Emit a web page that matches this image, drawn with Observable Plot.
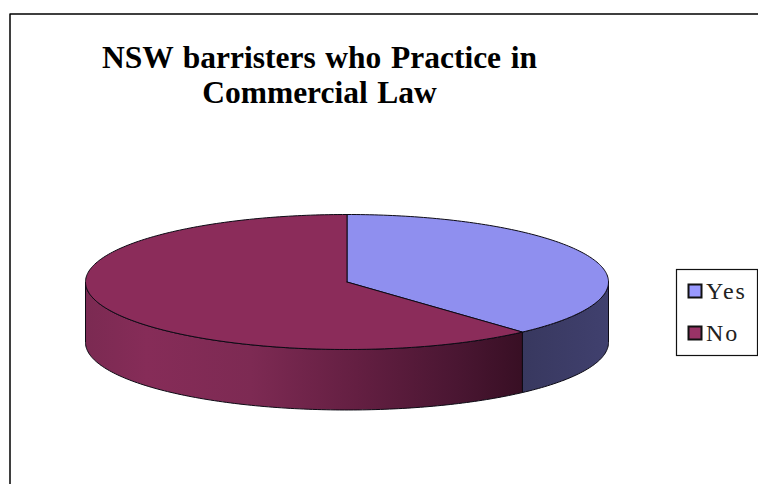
<!DOCTYPE html>
<html>
<head>
<meta charset="utf-8">
<script src="https://cdn.jsdelivr.net/npm/d3@7"></script>
<script src="https://cdn.jsdelivr.net/npm/@observablehq/plot@0.6"></script>
<style>html,body{margin:0;padding:0;background:#fff;overflow:hidden}svg{display:block}
.chart-title text{word-spacing:1.7px}
.legend-label text{letter-spacing:2px}
</style>
</head>
<body>
<div id="chart"></div>
<script>
const categories = ["Yes", "No"];
const shares = [38.3, 61.7];
const topColors = ["#8f8fef", "#8b2c5a"];
const legendColors = ["#9999ff", "#993366"];
const titleLines = ["NSW barristers who Practice in", "Commercial Law"];

const W = 758, H = 484;
// pie geometry: x/y domains are unit-disc coordinates of the tilted pie
const depth = 0.896;
const xRange = [85, 608], yRange = [214, 349];
const toX = d3.scaleLinear(xRange, [-1, 1]);
const toY = d3.scaleLinear(yRange, [1, -1]);

const total = d3.sum(shares);
const split = shares[0] / total * 360;
const rad = a => a * Math.PI / 180;
const rim = (from, to, dz = 0) => {
  const n = Math.max(2, Math.ceil(Math.abs(to - from)));
  return d3.range(n + 1).map(i => {
    const a = rad(from + (to - from) * i / n);
    return {u: Math.sin(a), v: Math.cos(a) - dz};
  });
};
const wedge = (from, to) => [{u: 0, v: 0}, ...rim(from, to), {u: 0, v: 0}];
const wall = (from, to) => {
  const a = rim(from, to), b = rim(to, from, depth);
  return [...a, ...b, a[0]];
};

const lineOpts = (fill) => ({x: "u", y: "v", fill, stroke: "#0c0a14", strokeWidth: 1, curve: "linear", strokeLinejoin: "round"});
const gradient = () => {
  const ns = "http://www.w3.org/2000/svg";
  const defs = document.createElementNS(ns, "defs");
  defs.innerHTML = `
  <linearGradient id="sideNo" x1="0" x2="1" y1="0" y2="0">
    <stop offset="0" stop-color="#7b2a52"/>
    <stop offset="0.14" stop-color="#862c58"/>
    <stop offset="0.38" stop-color="#7d2a53"/>
    <stop offset="0.62" stop-color="#641f42"/>
    <stop offset="0.85" stop-color="#4a1632"/>
    <stop offset="1" stop-color="#380f24"/>
  </linearGradient>
  <linearGradient id="sideYes" x1="0" x2="1" y1="0" y2="0">
    <stop offset="0" stop-color="#38385f"/>
    <stop offset="1" stop-color="#40406e"/>
  </linearGradient>`;
  return defs;
};

const legendY = [291, 333];
const chart = Plot.plot({
  width: W, height: H,
  margin: 0,
  style: {background: "#fff", overflow: "hidden"},
  x: {domain: [-1, 1], range: xRange, axis: null},
  y: {domain: [1, -1], range: yRange, axis: null},
  marks: [
    gradient,
    // outer frame (runs off the right and bottom edges)
    Plot.line([{u: toX(9.5), v: toY(H + 2)}, {u: toX(9.5), v: toY(13.5)}, {u: toX(W + 2), v: toY(13.5)}],
      {x: "u", y: "v", stroke: "#000", strokeWidth: 1.5}),
    // side walls
    Plot.line(wall(90, split), lineOpts("url(#sideYes)")),
    Plot.line(wall(split, 270), lineOpts("url(#sideNo)")),
    // top faces
    Plot.line(wedge(0, split), lineOpts(topColors[0])),
    Plot.line(wedge(split, 360), lineOpts(topColors[1])),
    // title
    Plot.text(titleLines, {
      x: () => toX(319), y: (d, i) => toY([57, 92][i]), text: d => d,
      fontFamily: "Liberation Serif", fontWeight: "bold", fontSize: 31.5, fill: "#000", textAnchor: "middle",
      className: "chart-title"
    }),
    // legend box
    Plot.rect([0], {x1: () => toX(676.5), x2: () => toX(757.5), y1: () => toY(269.5), y2: () => toY(355.5), fill: "#fff", stroke: "#111", strokeWidth: 1.2}),
    Plot.rect(categories, {
      x1: () => toX(688.5), x2: () => toX(701.5),
      y1: (d, i) => toY(legendY[i] - 6.5), y2: (d, i) => toY(legendY[i] + 6.5),
      fill: (d, i) => legendColors[i], stroke: "#111", strokeWidth: 2
    }),
    Plot.text(categories, {
      x: () => toX(705.5), y: (d, i) => toY(legendY[i]), text: d => d,
      textAnchor: "start", fontFamily: "Liberation Serif", fontSize: 24, fill: "#222",
      className: "legend-label"
    })
  ]
});
document.getElementById("chart").append(chart);
</script>
</body>
</html>
